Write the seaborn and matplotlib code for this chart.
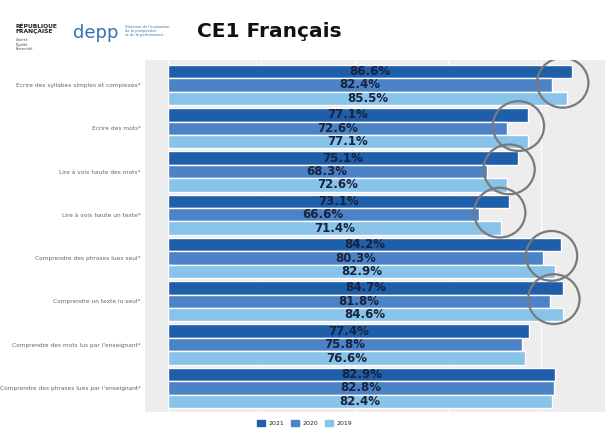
import matplotlib
matplotlib.use("Agg")
import matplotlib.pyplot as plt
from matplotlib.patches import Ellipse
import seaborn as sns
import pandas as pd

# data
categories = [
    "Ecrire des syllabes simples et complexes*",
    "Ecrire des mots*",
    "Lire à voix haute des mots*",
    "Lire à voix haute un texte*",
    "Comprendre des phrases lues seul*",
    "Comprendre un texte lu seul*",
    "Comprendre des mots lus par l'enseignant*",
    "Comprendre des phrases lues par l'enseignant*",
]
years = ["2021", "2020", "2019"]
vals_2021 = [86.6, 77.1, 75.1, 73.1, 84.2, 84.7, 77.4, 82.9]
vals_2020 = [82.4, 72.6, 68.3, 66.6, 80.3, 81.8, 75.8, 82.8]
vals_2019 = [85.5, 77.1, 72.6, 71.4, 82.9, 84.6, 76.6, 82.4]
circled = [True, True, True, True, True, True, False, False]

colors = {"2021": "#1f5ea9", "2020": "#4c82c6", "2019": "#88c3e9"}

df = pd.DataFrame({
    "categorie": categories * 3,
    "annee": [y for y in years for _ in categories],
    "score": vals_2021 + vals_2020 + vals_2019,
})

sns.set_theme(style="darkgrid", rc={
    "axes.facecolor": "#ededed",
    "grid.color": "white",
    "grid.linewidth": 0.6,
})
plt.rcParams["font.family"] = ["DejaVu Sans"]

fig = plt.figure(figsize=(6.09, 4.37), dpi=100)
fig.patch.set_facecolor("white")
ax = fig.add_axes([0.238, 0.057, 0.755, 0.806])

sns.barplot(data=df, y="categorie", x="score", hue="annee", hue_order=years,
            palette=colors, orient="h", width=0.93, saturation=1,
            ax=ax, legend=False)

# value labels centred in each bar
for cont in ax.containers:
    for bar in cont:
        w = bar.get_width()
        ax.text(w / 2, bar.get_y() + bar.get_height() / 2, f"{w:.1f}%",
                ha="center", va="center", fontsize=8.5, fontweight="bold",
                color="#17233f")

# grey hand-drawn circles around the bar ends
for i, (a, b, c) in enumerate(zip(vals_2021, vals_2020, vals_2019)):
    if circled[i]:
        m = max(a, b, c)
        ax.add_patch(Ellipse((m - 2.0, i - 0.05), 11.0, 1.15, fill=False,
                             edgecolor="#7a7a7a", lw=1.6, zorder=5))

ax.set_xlim(-4.9, 93.6)
ax.set_ylim(7.56, -0.58)
ax.set_xlabel("")
ax.set_ylabel("")
ax.set_xticklabels([])
ax.tick_params(axis="x", length=0)
ax.tick_params(axis="y", labelsize=4.2, labelcolor="#666666", length=2,
               color="#888888", pad=1)
ax.grid(axis="y", visible=False)
for s in ax.spines.values():
    s.set_visible(False)

# legend under the chart
handles = [plt.Rectangle((0, 0), 1, 1, color=colors[y]) for y in years]
fig.legend(handles, years, loc="center", bbox_to_anchor=(0.5, 0.032), ncol=3,
           frameon=False, fontsize=4.5, handlelength=1.3, handleheight=1.3,
           columnspacing=1.0, handletextpad=0.6)

# header
fig.text(0.443, 0.929, "CE1 Français", ha="center", va="center",
         fontsize=14.5, fontweight="bold", color="#111111")
fig.text(0.026, 0.935, "RÉPUBLIQUE\nFRANÇAISE", ha="left", va="center",
         fontsize=4.3, fontweight="bold", color="#222222", linespacing=1.0)
fig.text(0.026, 0.898, "Liberté\nÉgalité\nFraternité", ha="left", va="center",
         fontsize=2.5, color="#444444", linespacing=1.0)
fig.text(0.12, 0.925, "depp", ha="left", va="center", fontsize=13,
         color="#3a6fb3")
fig.text(0.205, 0.93, "Direction de l'évaluation,\nde la prospective\net de la performance",
         ha="left", va="center", fontsize=2.6, color="#3a6fb3",
         linespacing=1.0)

fig.savefig("out.png", dpi=100, facecolor="white")
